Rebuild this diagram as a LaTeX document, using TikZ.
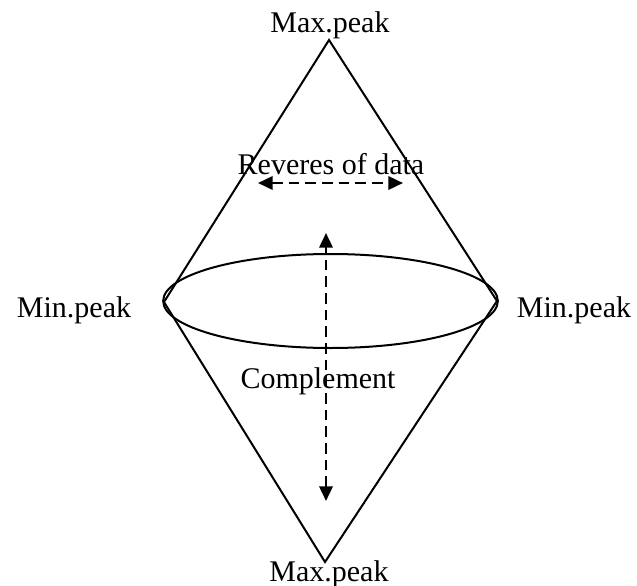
\documentclass[tikz,border=0pt]{standalone}
\usepackage{fontspec}
\setmainfont{Liberation Serif}
\usetikzlibrary{arrows.meta,shapes.geometric}
\begin{document}
\begin{tikzpicture}[x=0.75pt,y=-0.75pt,
  edge/.style={line width=1.5pt},
  tip/.style={},
  flow/.style={line width=1.9pt,dash pattern=on 8pt off 4.5pt,
    {Triangle[length=11pt,width=10pt]}-{Triangle[length=11pt,width=10pt]}},
  lbl/.style={font=\fontsize{22.5}{27}\selectfont,inner sep=0pt,anchor=base}]
\useasboundingbox (0,0) rectangle (637,586);

% corners of the double cone
\coordinate (top) at (329,40);
\coordinate (bot) at (325,562);
\coordinate (lft) at (164,302);
\coordinate (rgt) at (497,301);

% outline of the two cones
\draw[edge] (lft) -- (top) -- (rgt) -- (bot) -- cycle;

% base circle seen in perspective
\node[ellipse,draw,line width=1.5pt,inner sep=0pt,
  minimum width=251pt,minimum height=70.5pt] (disk) at (330.5,301) {};

% labels
\node[lbl] (tmax) at (330,32) {Max.peak};
\node[lbl] (bmax) at (329,581) {Max.peak};
\node[lbl] (lmin) at (74,317) {Min.peak};
\node[lbl] (rmin) at (574,317) {Min.peak};
\node[lbl] (rev) at (331,174) {Reveres of data};
\node[lbl] (comp) at (318,388) {Complement};

% arrows
\coordinate (hl) at (258,183);
\coordinate (hr) at (403,183);
\coordinate (vt) at (326,233);
\coordinate (vb) at (326,501);
\draw[flow] (hl) -- (hr);
\draw[flow] (vb) -- (vt);
\end{tikzpicture}
\end{document}
